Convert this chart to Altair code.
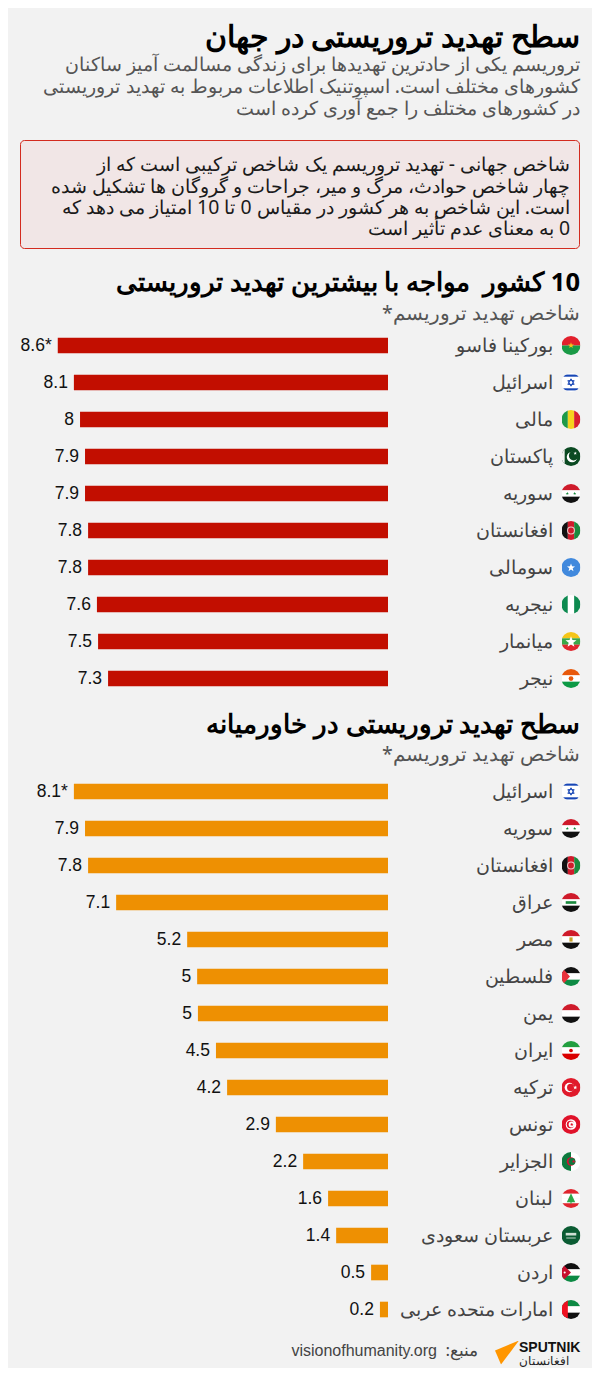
import base64
import math
import altair as alt

FONT = "Noto Sans"
LATIN = "Liberation Sans"
BG = "#f2f2f2"
RED = "#c20e00"
ORANGE = "#ee9002"

TITLE = "سطح تهدید تروریستی در جهان"
SUBTITLE = [
    "تروریسم یکی از حادترین تهدیدها برای زندگی مسالمت آمیز ساکنان",
    "کشورهای مختلف است. اسپوتنیک اطلاعات مربوط به تهدید تروریستی",
    "در کشورهای مختلف را جمع آوری کرده است",
]
BOX = [
    "شاخص جهانی - تهدید تروریسم یک شاخص ترکیبی است که از",
    "چهار شاخص حوادث، مرگ و میر، جراحات و گروگان ها تشکیل شده",
    "است. این شاخص به هر کشور در مقیاس 0 تا 10 امتیاز می دهد که",
    "\u200f0 به معنای عدم تأثیر است",
]
HEAD_A = "\u200f10 کشور \u00a0مواجه با بیشترین تهدید تروریستی"
HEAD_B = "سطح تهدید تروریستی در خاورمیانه"
INDEX = "شاخص تهدید تروریسم*\u200f"
SOURCE_LABEL = "منبع:\u200f"
SOURCE = "visionofhumanity.org"

A_NAMES = ["بورکینا فاسو", "اسرائیل", "مالی", "پاکستان", "سوریه", "افغانستان", "سومالی", "نیجریه", "میانمار", "نیجر"]
A_VALUES = [8.6, 8.18, 8.02, 7.89, 7.89, 7.81, 7.81, 7.58, 7.55, 7.29]
A_LABELS = ["8.6*", "8.1", "8", "7.9", "7.9", "7.8", "7.8", "7.6", "7.5", "7.3"]
A_FLAGS = ["bf", "il", "ml", "pk", "sy", "af", "so", "ng", "mm", "ne"]

B_NAMES = ["اسرائیل", "سوریه", "افغانستان", "عراق", "مصر", "فلسطین", "یمن", "ایران", "ترکیه", "تونس", "الجزایر", "لبنان", "عربستان سعودی", "اردن", "امارات متحده عربی"]
B_VALUES = [8.18, 7.89, 7.81, 7.08, 5.23, 4.97, 4.95, 4.48, 4.19, 2.92, 2.21, 1.56, 1.35, 0.44, 0.21]
B_LABELS = ["8.1*", "7.9", "7.8", "7.1", "5.2", "5", "5", "4.5", "4.2", "2.9", "2.2", "1.6", "1.4", "0.5", "0.2"]
B_FLAGS = ["il", "sy", "af", "iq", "eg", "ps", "ye", "ir", "tr", "tn", "dz", "lb", "sa", "jo", "ae"]


def bands(*colors):
    n = len(colors)
    return "".join(f'<rect y="{i*36/n}" width="36" height="{36/n+0.1}" fill="{c}"/>' for i, c in enumerate(colors))


def star(cx, cy, r, fill):
    pts = []
    for i in range(10):
        rad = r if i % 2 == 0 else r * 0.42
        a = i * math.pi / 5
        pts.append(f"{cx + rad * math.sin(a):.2f},{cy - rad * math.cos(a):.2f}")
    return f'<polygon fill="{fill}" points="{" ".join(pts)}"/>'


FLAG_ART = {
    "bf": bands("#e2202c", "#1a9a46") + star(18, 18, 6, "#f5c518"),
    "il": '<rect width="36" height="36" fill="#fff"/><rect y="3" width="36" height="4" fill="#1746b5"/><rect y="29" width="36" height="4" fill="#1746b5"/>'
          '<path d="M18 11l6 10.5H12zM18 25l-6-10.5h12z" fill="none" stroke="#1746b5" stroke-width="1.8"/>',
    "ml": '<rect width="12" height="36" fill="#1e9a48"/><rect x="12" width="12" height="36" fill="#f6d21f"/><rect x="24" width="12" height="36" fill="#d81f30"/>',
    "pk": '<rect width="36" height="36" fill="#0b4a22"/><rect width="6" height="36" fill="#f2f2f2"/>'
          '<circle cx="20" cy="19" r="10" fill="#fff"/><circle cx="23" cy="16.5" r="9" fill="#0b4a22"/>' + star(26, 12, 3.5, "#fff"),
    "sy": bands("#cf1b2b", "#fff", "#111") + star(11, 18, 3.2, "#1a8a3e") + star(25, 18, 3.2, "#1a8a3e"),
    "af": '<rect width="12" height="36" fill="#111"/><rect x="12" width="12" height="36" fill="#cf1b2b"/><rect x="24" width="12" height="36" fill="#1a8a3e"/>'
          '<circle cx="18" cy="18" r="6.5" fill="none" stroke="#f0c8c8" stroke-width="2"/>',
    "so": '<rect width="36" height="36" fill="#4189dd"/>' + star(18, 18.5, 8, "#fff"),
    "ng": '<rect width="12" height="36" fill="#0d8a50"/><rect x="12" width="12" height="36" fill="#fff"/><rect x="24" width="12" height="36" fill="#0d8a50"/>',
    "mm": bands("#f5c518", "#3aa84a", "#e0262e") + star(18, 19, 11, "#fff"),
    "ne": bands("#e8590c", "#fff", "#0d9a46") + '<circle cx="18" cy="18" r="4.5" fill="#e8590c"/>',
    "iq": bands("#cf1b2b", "#fff", "#111") + '<rect x="8" y="15.5" width="20" height="5" fill="#1a8a3e"/>',
    "eg": bands("#cf1b2b", "#fff", "#111") + '<rect x="15" y="14" width="6" height="8" fill="#c8a02a"/>',
    "ps": bands("#111", "#fff", "#0d8a44") + '<polygon points="0,0 16,18 0,36" fill="#e8303a"/>',
    "ye": bands("#cf1b2b", "#fff", "#111"),
    "ir": bands("#239f40", "#fff", "#da0000") + '<circle cx="18" cy="18" r="3.5" fill="#da0000"/>',
    "tr": '<rect width="36" height="36" fill="#e01a2b"/><circle cx="15" cy="18" r="9" fill="#fff"/><circle cx="17.5" cy="18" r="7" fill="#e01a2b"/>' + star(26, 18, 4, "#fff"),
    "tn": '<rect width="36" height="36" fill="#e0122a"/><circle cx="18" cy="18" r="10" fill="#fff"/><circle cx="17" cy="18" r="7" fill="#e0122a"/><circle cx="19" cy="18" r="5.5" fill="#fff"/>' + star(19.5, 18, 3.5, "#e0122a"),
    "dz": '<rect width="18" height="36" fill="#0d7a3e"/><rect x="18" width="18" height="36" fill="#fff"/><circle cx="18" cy="18" r="8" fill="#d21034"/><circle cx="20" cy="18" r="6.5" fill="#0d7a3e"/>' + star(23, 18, 3.6, "#d21034"),
    "lb": bands("#e0262e", "#fff", "#fff", "#e0262e") + '<polygon points="18,8 26,25 10,25" fill="#2da84a"/><rect x="17" y="24" width="2" height="4" fill="#2da84a"/>',
    "sa": '<rect width="36" height="36" fill="#0b5c33"/><rect x="8" y="13" width="20" height="5" fill="#cfe0d4"/><rect x="9" y="22" width="18" height="1.5" fill="#e8efe9"/>',
    "jo": bands("#111", "#fff", "#0d8a44") + '<polygon points="0,0 18,18 0,36" fill="#c8102e"/><circle cx="6" cy="18" r="2" fill="#fff"/>',
    "ae": bands("#0d8a44", "#fff", "#111") + '<rect width="12" height="36" fill="#f01020"/>',
}


def flag_url(code):
    svg = ('<svg xmlns="http://www.w3.org/2000/svg" width="36" height="36" viewBox="0 0 36 36">'
           '<defs><clipPath id="c"><circle cx="18" cy="18" r="18"/></clipPath></defs>'
           f'<g clip-path="url(#c)">{FLAG_ART[code]}</g></svg>')
    return "data:image/svg+xml;base64," + base64.b64encode(svg.encode()).decode()


ARROW_URL = "data:image/svg+xml;base64," + base64.b64encode(
    b'<svg xmlns="http://www.w3.org/2000/svg" width="48" height="48" viewBox="0 0 24 24">'
    b'<polygon points="24,0 0,10 6,24" fill="#ff9600"/></svg>').decode()

PAGE = 8
W = 584


def txt(text, x, y, size, color, weight="normal", font=FONT, align="right"):
    return alt.Chart(alt.Data(values=[{"t": text}])).mark_text(
        align=align, baseline="middle", fontSize=size, fontWeight=weight, font=font, color=color
    ).encode(x=alt.value(x - PAGE), y=alt.value(y), text="t:N")


def panel(names, values, labels, flags, color):
    rows = [{"name": n, "value": v, "label": l, "flag": flag_url(f)} for n, v, l, f in zip(names, values, labels, flags)]
    base = alt.Chart(alt.Data(values=rows))
    yenc = alt.Y("name:N", sort=names, axis=None, scale=alt.Scale(paddingInner=0.578, paddingOuter=0.289))
    xenc = alt.X("value:Q", axis=None, scale=alt.Scale(domain=[380 / 38.4, 0], range=[0, 380], nice=False))
    bars = base.mark_bar(color=color).encode(x=xenc, y=yenc)
    vals = base.mark_text(align="right", baseline="middle", dx=-6, dy=0.5, fontSize=17.5, font=LATIN, color="#111").encode(x=xenc, y=yenc, text="label:N")
    names_l = base.mark_text(align="right", baseline="middle", fontSize=18.6, font=FONT, color="#444").encode(x=alt.value(553 - PAGE), y=yenc, text="name:N")
    icons = base.mark_image(width=19, height=19).encode(x=alt.value(571 - PAGE), y=yenc, url="flag:N")
    return alt.layer(bars, vals, names_l, icons).properties(width=W, height=37 * len(names))


OFF_H = 8
header_h = 326.5 - OFF_H
head = alt.layer(
    txt(TITLE, 580, 38 - OFF_H, 30, "#000", "bold"),
    *[txt(s, 580, y - OFF_H, 19.4, "#555") for s, y in zip(SUBTITLE, [65, 87, 109])],
    alt.Chart(alt.Data(values=[{"k": 1}])).mark_rect(fill="#f1e6e6", stroke="#d32b1f", strokeWidth=1, cornerRadius=4).encode(
        x=alt.value(20.5 - PAGE), x2=alt.value(579.5 - PAGE), y=alt.value(140.5 - OFF_H), y2=alt.value(248.5 - OFF_H)),
    *[txt(s, 570, y - OFF_H, 19.4, "#1a1a1a") for s, y in zip(BOX, [165, 187, 208, 229])],
    txt(HEAD_A, 580, 283 - OFF_H, 25.5, "#000", "bold"),
    txt(INDEX, 580, 314 - OFF_H, 19.6, "#555"),
).properties(width=W, height=header_h)

mid_top = 326.5 + 370
mid = alt.layer(
    txt(HEAD_B, 580, 724 - mid_top, 25.5, "#000", "bold"),
    txt(INDEX, 580, 754 - mid_top, 19.6, "#555"),
).properties(width=W, height=772.5 - mid_top)

foot_top = 772.5 + 555
foot = alt.layer(
    txt(SOURCE, 437, 1350 - foot_top, 16, "#444", font=LATIN),
    txt(SOURCE_LABEL, 478, 1350 - foot_top, 17, "#444"),
    alt.Chart(alt.Data(values=[{"u": ARROW_URL}])).mark_image(width=24, height=24, align="left", baseline="top").encode(
        x=alt.value(495 - PAGE), y=alt.value(1340 - foot_top), url="u:N"),
    txt("SPUTNIK", 519, 1347 - foot_top, 14, "#111", "bold", font=LATIN, align="left"),
    txt("افغانستان", 569, 1360 - foot_top, 12, "#222"),
).properties(width=W, height=1367 - foot_top)

chart = alt.vconcat(
    head,
    panel(A_NAMES, A_VALUES, A_LABELS, A_FLAGS, RED),
    mid,
    panel(B_NAMES, B_VALUES, B_LABELS, B_FLAGS, ORANGE),
    foot,
    spacing=0,
).properties(background=BG, padding=0).configure_view(stroke=None)

chart.save("out.html", embed_options={"renderer": "svg", "actions": False})
